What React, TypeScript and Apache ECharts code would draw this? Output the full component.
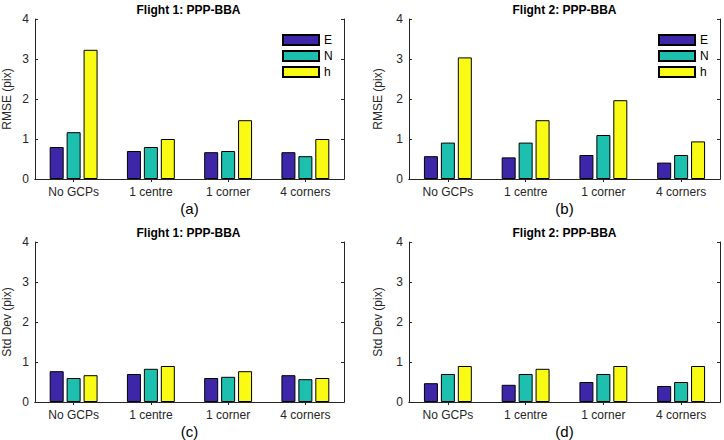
import React, { useEffect, useRef } from "react";
import * as echarts from "echarts";

const categories = ["No GCPs", "1 centre", "1 corner", "4 corners"];
const seriesNames = ["E", "N", "h"];
const colors = ["#3E26A8", "#1DBFAE", "#F9FB15"];
const yTicks = [0, 1, 2, 3, 4];

// Panel (a) Flight 1 RMSE
const f1RmseE = [0.8, 0.7, 0.67, 0.67];
const f1RmseN = [1.17, 0.8, 0.7, 0.57];
const f1RmseH = [3.23, 1.0, 1.47, 1.0];
// Panel (b) Flight 2 RMSE
const f2RmseE = [0.57, 0.54, 0.6, 0.41];
const f2RmseN = [0.91, 0.91, 1.1, 0.6];
const f2RmseH = [3.04, 1.47, 1.97, 0.94];
// Panel (c) Flight 1 Std Dev
const f1StdE = [0.77, 0.7, 0.6, 0.67];
const f1StdN = [0.6, 0.83, 0.63, 0.57];
const f1StdH = [0.67, 0.9, 0.77, 0.6];
// Panel (d) Flight 2 Std Dev
const f2StdE = [0.47, 0.43, 0.5, 0.4];
const f2StdN = [0.7, 0.7, 0.7, 0.5];
const f2StdH = [0.9, 0.83, 0.9, 0.9];

const panels = [
  { title: "Flight 1: PPP-BBA", yName: "RMSE (pix)", label: "(a)", data: [f1RmseE, f1RmseN, f1RmseH], left: 33, top: 19, nameGap: 22, legend: true },
  { title: "Flight 2: PPP-BBA", yName: "RMSE (pix)", label: "(b)", data: [f2RmseE, f2RmseN, f2RmseH], left: 409, top: 19, nameGap: 25, legend: true },
  { title: "Flight 1: PPP-BBA", yName: "Std Dev (pix)", label: "(c)", data: [f1StdE, f1StdN, f1StdH], left: 33, top: 242, nameGap: 22, legend: false },
  { title: "Flight 2: PPP-BBA", yName: "Std Dev (pix)", label: "(d)", data: [f2StdE, f2StdN, f2StdH], left: 409, top: 242, nameGap: 25, legend: false },
];

const W = 311;
const H = 160;
const AX = "#262626";
const FONT = "Liberation Sans, Arial, Helvetica, sans-serif";

export default function App() {
  const ref = useRef<HTMLDivElement>(null);
  useEffect(() => {
    if (!ref.current) return;
    const chart = echarts.init(ref.current, null, { renderer: "svg" });
    const grid: any[] = [];
    const xAxis: any[] = [];
    const yAxis: any[] = [];
    const series: any[] = [];
    const title: any[] = [];
    const legend: any[] = [];
    panels.forEach((p, i) => {
      grid.push({ left: p.left, top: p.top, width: W, height: H, containLabel: false });
      title.push({
        text: p.title,
        left: p.left + W / 2,
        textAlign: "center",
        top: p.top - 15,
        padding: 0,
        textStyle: { fontSize: 12, fontWeight: "bold", color: "#000", fontFamily: FONT },
      });
      xAxis.push({
        type: "category",
        gridIndex: i,
        data: categories,
        position: "bottom",
        name: p.label,
        nameLocation: "middle",
        nameGap: 22,
        nameTextStyle: { fontSize: 15, color: "#000", fontFamily: FONT },
        axisLine: { show: true, lineStyle: { color: AX, width: 1 } },
        axisTick: { show: true, inside: true, length: 3, alignWithLabel: true, lineStyle: { color: AX } },
        axisLabel: { fontSize: 12, color: AX, margin: 7, fontFamily: FONT },
        splitLine: { show: false },
      });
      xAxis.push({
        type: "category",
        gridIndex: i,
        data: categories,
        position: "top",
        axisLine: { show: true, lineStyle: { color: AX, width: 1 } },
        axisTick: { show: true, inside: true, length: 3, alignWithLabel: true, lineStyle: { color: AX } },
        axisLabel: { show: false },
        splitLine: { show: false },
      });
      yAxis.push({
        type: "value",
        gridIndex: i,
        min: yTicks[0],
        max: yTicks[yTicks.length - 1],
        interval: 1,
        position: "left",
        name: p.yName,
        nameLocation: "middle",
        nameGap: p.nameGap,
        nameTextStyle: { fontSize: 12, color: AX, fontFamily: FONT },
        axisLine: { show: true, lineStyle: { color: AX, width: 1 } },
        axisTick: { show: true, inside: true, length: 3, lineStyle: { color: AX } },
        axisLabel: { fontSize: 12, color: AX, margin: 6, fontFamily: FONT },
        splitLine: { show: false },
      });
      yAxis.push({
        type: "value",
        gridIndex: i,
        min: yTicks[0],
        max: yTicks[yTicks.length - 1],
        interval: 1,
        position: "right",
        axisLine: { show: true, lineStyle: { color: AX, width: 1 } },
        axisTick: { show: true, inside: true, length: 3, lineStyle: { color: AX } },
        axisLabel: { show: false },
        splitLine: { show: false },
      });
      p.data.forEach((vals, k) => {
        series.push({
          type: "bar",
          name: seriesNames[k],
          xAxisIndex: 2 * i,
          yAxisIndex: 2 * i,
          data: vals,
          barWidth: 14,
          barGap: "21%",
          itemStyle: { color: colors[k], borderColor: "#000", borderWidth: 1 },
        });
      });
      if (p.legend) {
        legend.push({
          data: seriesNames,
          orient: "vertical",
          left: p.left + 249,
          top: 34,
          padding: 0,
          itemWidth: 36,
          itemHeight: 10,
          itemGap: 4,
          selectedMode: false,
          icon: "rect",
          textStyle: { fontSize: 12, lineHeight: 10, color: "#000", fontFamily: FONT },
        });
      }
    });
    chart.setOption({
      animation: false,
      backgroundColor: "#fff",
      textStyle: { fontFamily: FONT },
      title,
      legend,
      grid,
      xAxis,
      yAxis,
      series,
    });
    return () => chart.dispose();
  }, []);
  return <div ref={ref} style={{ width: 724, height: 440, position: "absolute", left: 0, top: 0 }} />;
}
